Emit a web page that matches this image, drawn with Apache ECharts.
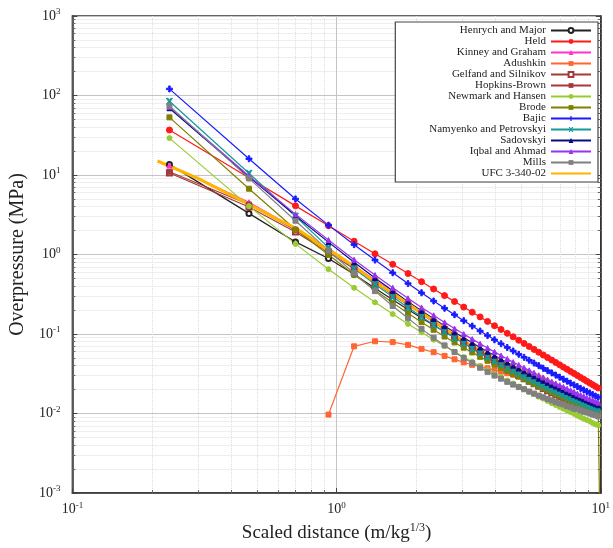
<!DOCTYPE html>
<html><head><meta charset="utf-8">
<script src="https://cdn.jsdelivr.net/npm/echarts@6/dist/echarts.min.js"></script>
<style>html,body{margin:0;padding:0;background:#fff}#c{width:613px;height:548px}</style>
</head><body><div id="c"></div>
<script>
// Scaled distance values (m/kg^1/3)
const Z = [0.233,0.466,0.699,0.932,1.165,1.398,1.631,1.864,2.097,2.33,2.563,2.796,3.029,3.262,3.495,3.728,3.961,4.194,4.427,4.66,4.893,5.126,5.359,5.592,5.825,6.058,6.291,6.524,6.757,6.99,7.223,7.456,7.689,7.922,8.155,8.388,8.621,8.854,9.087,9.32,9.553,9.786];
// Overpressure (MPa)
const henrych = [13.6,3.29,1.44,0.890,0.563,0.375,0.269,0.203,0.159,0.129,0.107,0.0905,0.0778,0.0679,0.0598,0.0532,0.0478,0.0433,0.0395,0.0361,0.0332,0.0307,0.0286,0.0267,0.0250,0.0234,0.0220,0.0208,0.0198,0.0188,0.0179,0.0170,0.0162,0.0156,0.0148,0.0143,0.0136,0.0132,0.0126,0.0122,0.0117,0.0114];
const held = [36.8,9.21,4.09,2.30,1.47,1.02,0.752,0.576,0.455,0.368,0.304,0.256,0.218,0.188,0.164,0.144,0.127,0.114,0.102,0.0921,0.0835,0.0761,0.0696,0.0640,0.0589,0.0545,0.0505,0.0470,0.0438,0.0409,0.0383,0.0360,0.0338,0.0319,0.0301,0.0284,0.0269,0.0255,0.0242,0.0230,0.0219,0.0209];
const kinney = [13.2,4.54,2.12,1.17,0.721,0.478,0.335,0.245,0.186,0.146,0.117,0.0963,0.0806,0.0686,0.0592,0.0518,0.0457,0.0408,0.0367,0.0333,0.0304,0.0280,0.0258,0.0240,0.0224,0.0209,0.0197,0.0186,0.0175,0.0166,0.0158,0.0151,0.0144,0.0138,0.0132,0.0127,0.0122,0.0118,0.0114,0.0110,0.0106,0.0103];
const adushkinZ = [0.932,1.165,1.398,1.631,1.864,2.097,2.33,2.563,2.796,3.029,3.262,3.495,3.728,3.961,4.194,4.427,4.66,4.893,5.126,5.359,5.592,5.825,6.058,6.291,6.524,6.757,6.99,7.223,7.456,7.689,7.922,8.155,8.388,8.621,8.854,9.087,9.32,9.553,9.786];
const adushkin = [0.0097,0.070,0.081,0.079,0.073,0.065,0.059,0.053,0.048,0.044,0.041,0.039,0.037,0.0352,0.0336,0.0321,0.0307,0.0293,0.0279,0.0266,0.0253,0.0240,0.0228,0.0216,0.0205,0.0194,0.0184,0.0174,0.0165,0.0156,0.0148,0.0141,0.0134,0.0127,0.0121,0.0116,0.0110,0.0105,0.0101];
const gelfand = [10.6,3.95,1.92,1.06,0.66,0.44,0.31,0.232,0.178,0.141,0.114,0.0945,0.0795,0.068,0.0588,0.0514,0.0454,0.0405,0.0364,0.033,0.0301,0.0276,0.0255,0.0236,0.022,0.0206,0.0193,0.0182,0.0172,0.0163,0.0155,0.0148,0.0141,0.0135,0.0129,0.0124,0.0119,0.0115,0.0111,0.0107,0.0104,0.0101];
const hopkins = [11.0,4.25,2.02,1.12,0.70,0.465,0.326,0.240,0.183,0.144,0.116,0.0955,0.080,0.0682,0.0589,0.0515,0.0455,0.0405,0.0364,0.033,0.0301,0.0277,0.0256,0.0238,0.0222,0.0208,0.0195,0.0184,0.0174,0.0165,0.0157,0.015,0.0143,0.0137,0.0131,0.0126,0.0121,0.0117,0.0113,0.0109,0.0106,0.0103];
const newmark = [29.1,4.06,1.36,0.654,0.381,0.250,0.178,0.134,0.105,0.0849,0.0705,0.0597,0.0513,0.0447,0.0395,0.0352,0.0316,0.0286,0.0260,0.0238,0.0218,0.0203,0.0187,0.0175,0.0163,0.0154,0.0144,0.0135,0.0128,0.0121,0.0115,0.0109,0.0104,0.0099,0.0094,0.0090,0.0086,0.0083,0.0080,0.0076,0.0073,0.0071];
const brodeZ = [0.233,0.466,0.699,0.932,1.165,1.398,1.631,1.864,2.097,2.33,2.563,2.796,3.029,3.262,3.495,3.728,3.961,4.194,4.427,4.66,4.893,5.126,5.359,5.592,5.825,6.058,6.291,6.524,6.757,6.99,7.223,7.456,7.689,7.922,8.155,8.388,8.621,8.854,9.087,9.32,9.553,9.786,9.95];
const brode = [53.1,6.72,2.06,0.993,0.559,0.356,0.247,0.183,0.141,0.113,0.0929,0.0784,0.0673,0.0586,0.0516,0.0461,0.0414,0.0376,0.0342,0.0315,0.0291,0.0269,0.0252,0.0235,0.0221,0.0208,0.0196,0.0185,0.0176,0.0168,0.0160,0.0152,0.0146,0.0139,0.0134,0.0128,0.0123,0.0118,0.0114,0.0110,0.0106,0.0102,0.0002];
const bajic = [121,16.0,5.0,2.34,1.33,0.851,0.589,0.431,0.330,0.260,0.211,0.175,0.147,0.126,0.109,0.0955,0.0845,0.0754,0.0677,0.0612,0.0556,0.0509,0.0467,0.0431,0.0400,0.0371,0.0346,0.0324,0.0304,0.0286,0.0270,0.0255,0.0241,0.0229,0.0218,0.0207,0.0198,0.0189,0.0181,0.0173,0.0166,0.0160];
const namyenko = [84.5,10.5,3.03,1.22,0.664,0.423,0.292,0.215,0.165,0.131,0.107,0.0895,0.0763,0.0660,0.0578,0.0512,0.0460,0.0414,0.0377,0.0344,0.0317,0.0293,0.0273,0.0255,0.0238,0.0223,0.0211,0.0200,0.0189,0.0180,0.0171,0.0164,0.0156,0.0150,0.0143,0.0138,0.0132,0.0128,0.0124,0.0119,0.0115,0.0112];
const sadovskyi = [69.1,9.47,3.08,1.43,0.800,0.507,0.349,0.255,0.196,0.155,0.126,0.105,0.0896,0.0774,0.0676,0.0598,0.0535,0.0482,0.0437,0.0399,0.0367,0.0339,0.0315,0.0294,0.0274,0.0258,0.0243,0.0229,0.0218,0.0206,0.0197,0.0187,0.0180,0.0171,0.0164,0.0158,0.0151,0.0146,0.0141,0.0136,0.0131,0.0127];
const iqbal = [72,9.73,3.22,1.52,0.861,0.551,0.382,0.281,0.216,0.172,0.140,0.117,0.0998,0.0862,0.0753,0.0667,0.0596,0.0536,0.0486,0.0443,0.0408,0.0376,0.0349,0.0325,0.0303,0.0284,0.0267,0.0252,0.0239,0.0227,0.0216,0.0205,0.0196,0.0187,0.0178,0.0171,0.0165,0.0158,0.0152,0.0147,0.0142,0.0137];
const mills = [74.0,9.06,2.66,1.12,0.583,0.346,0.225,0.158,0.116,0.0899,0.0719,0.0593,0.0499,0.0431,0.0376,0.0334,0.0300,0.0274,0.0250,0.0231,0.0215,0.0202,0.0189,0.0178,0.0168,0.0160,0.0152,0.0146,0.0139,0.0134,0.0130,0.0124,0.0120,0.0115,0.0113,0.0109,0.0105,0.0103,0.0100,0.0097,0.0095,0.0092];
const ufcZ = [0.21,0.3,0.4,0.5,0.6,0.7,0.8,0.9,1.0,1.2,1.4,1.6,1.8,2.0,2.5,3.0,3.5,4.0,4.5,5.0,5.5,6.0,6.5,7.0,7.5,8.0,8.5,9.0,9.5,10.0];
const ufc = [15.0,9.0,5.55,3.8,2.75,2.15,1.6,1.2,1.0,0.66,0.45,0.34,0.26,0.205,0.125,0.083,0.062,0.048,0.041,0.036,0.032,0.0288,0.0245,0.0203,0.017,0.0141,0.013,0.0123,0.0117,0.0112];

const plus = 'path://M3,0h2v3h3v2h-3v3h-2v-3h-3v-2h3z';
const cross = 'path://M0,0h2.2l1.8,2.6l1.8,-2.6h2.2l-2.8,4l2.8,4h-2.2l-1.8,-2.6l-1.8,2.6h-2.2l2.8,-4z';

const defs = [
  {name:'Henrych and Major', x:Z, y:henrych, color:'#222222', symbol:'emptyCircle', size:5},
  {name:'Held', x:Z, y:held, color:'#ff1a1a', symbol:'circle', size:6},
  {name:'Kinney and Graham', x:Z, y:kinney, color:'#ff33cc', symbol:'triangle', size:5},
  {name:'Adushkin', x:adushkinZ, y:adushkin, color:'#ff6633', symbol:'rect', size:5},
  {name:'Gelfand and Silnikov', x:Z, y:gelfand, color:'#a33a3a', symbol:'emptyRect', size:5},
  {name:'Hopkins-Brown', x:Z, y:hopkins, color:'#a8383f', symbol:'rect', size:5},
  {name:'Newmark and Hansen', x:Z, y:newmark, color:'#99cc33', symbol:'circle', size:5},
  {name:'Brode', x:brodeZ, y:brode, color:'#808000', symbol:'rect', size:5},
  {name:'Bajic', x:Z, y:bajic, color:'#1a1aff', symbol:plus, size:6},
  {name:'Namyenko and Petrovskyi', x:Z, y:namyenko, color:'#129a9a', symbol:cross, size:6},
  {name:'Sadovskyi', x:Z, y:sadovskyi, color:'#0a0a80', symbol:'triangle', size:5},
  {name:'Iqbal and Ahmad', x:Z, y:iqbal, color:'#9933ee', symbol:'triangle', size:5},
  {name:'Mills', x:Z, y:mills, color:'#808080', symbol:'rect', size:5},
  {name:'UFC 3-340-02', x:ufcZ, y:ufc, color:'#ffb300', symbol:'none', size:0, width:3}
];

const series = defs.map(d => ({
  name: d.name, type:'line', data: d.x.map((v,i)=>[v, d.y[i]]),
  symbol: d.symbol, symbolSize: d.size, showSymbol: d.symbol!=='none',
  clip: true, animation:false,
  lineStyle:{color:d.color, width:d.width||1.2},
  itemStyle:{color:d.color, borderColor:d.color},
  z: 2
}));

const serif = 'Liberation Serif';
const expFmt = v => '{b|10}{s|' + Math.round(Math.log10(v)) + '}';
const rich = {b:{fontFamily:serif,fontSize:14,color:'#222'}, s:{fontFamily:serif,fontSize:9,color:'#222',padding:[0,0,8,0]}};

const legendData = defs.map(d => d.symbol === 'none' ? {name:d.name, itemStyle:{opacity:0}} : d.name);

const chart = echarts.init(document.getElementById('c'), null, {renderer:'canvas'});
chart.setOption({
  backgroundColor:'#fff',
  animation:false,
  grid:{left:68,right:10,top:16,bottom:55,show:true,borderColor:'#333',borderWidth:1.5,backgroundColor:'transparent'},
  legend:{
    orient:'vertical', right:15, top:22, align:'right',
    data: legendData,
    itemWidth:40, itemHeight:6, itemGap:0,
    backgroundColor:'#fff', borderColor:'#444', borderWidth:1.2, borderRadius:0,
    padding:[3,6,3,34],
    textStyle:{fontFamily:serif, fontSize:11, color:'#222', lineHeight:11, padding:[0,0,0,0]}
  },
  xAxis:[{
    type:'log', logBase:10, min:0.1, max:10,
    name:'Scaled distance (m/kg{s|1/3})', nameLocation:'middle', nameGap:26,
    nameTextStyle:{fontFamily:serif, fontSize:19, color:'#222', rich:{s:{fontFamily:serif,fontSize:12,color:'#222',padding:[0,0,12,0]}}},
    axisLine:{show:true, lineStyle:{color:'#333', width:1.5}},
    axisTick:{show:true, inside:true, length:5, lineStyle:{color:'#444'}},
    minorTick:{show:true, splitNumber:9, length:3, lineStyle:{color:'#666'}},
    axisLabel:{formatter:expFmt, rich:rich, margin:8},
    splitLine:{show:true, lineStyle:{color:'#c4c4c4', width:1}},
    minorSplitLine:{show:true, lineStyle:{color:'#dedede', type:'dotted', width:1}}
  }],
  yAxis:[{
    type:'log', logBase:10, min:0.001, max:1000,
    name:'Overpressure (MPa)', nameLocation:'middle', nameGap:42, nameRotate:90,
    nameTextStyle:{fontFamily:serif, fontSize:20, color:'#222'},
    axisLine:{show:true, lineStyle:{color:'#333', width:1.5}},
    axisTick:{show:true, inside:true, length:5, lineStyle:{color:'#444'}},
    minorTick:{show:true, splitNumber:9, length:3, lineStyle:{color:'#666'}},
    axisLabel:{formatter:expFmt, rich:rich, margin:12},
    splitLine:{show:true, lineStyle:{color:'#c4c4c4', width:1}},
    minorSplitLine:{show:true, lineStyle:{color:'#dedede', type:'dotted', width:1}}
  },{
    type:'log', logBase:10, min:0.001, max:1000, position:'right',
    axisLine:{show:true, lineStyle:{color:'#333', width:1.5}},
    axisTick:{show:true, inside:true, length:5, lineStyle:{color:'#444'}},
    minorTick:{show:true, splitNumber:9, length:3, lineStyle:{color:'#666'}},
    axisLabel:{show:false}, splitLine:{show:false}
  }],
  series: series
});
</script></body></html>
